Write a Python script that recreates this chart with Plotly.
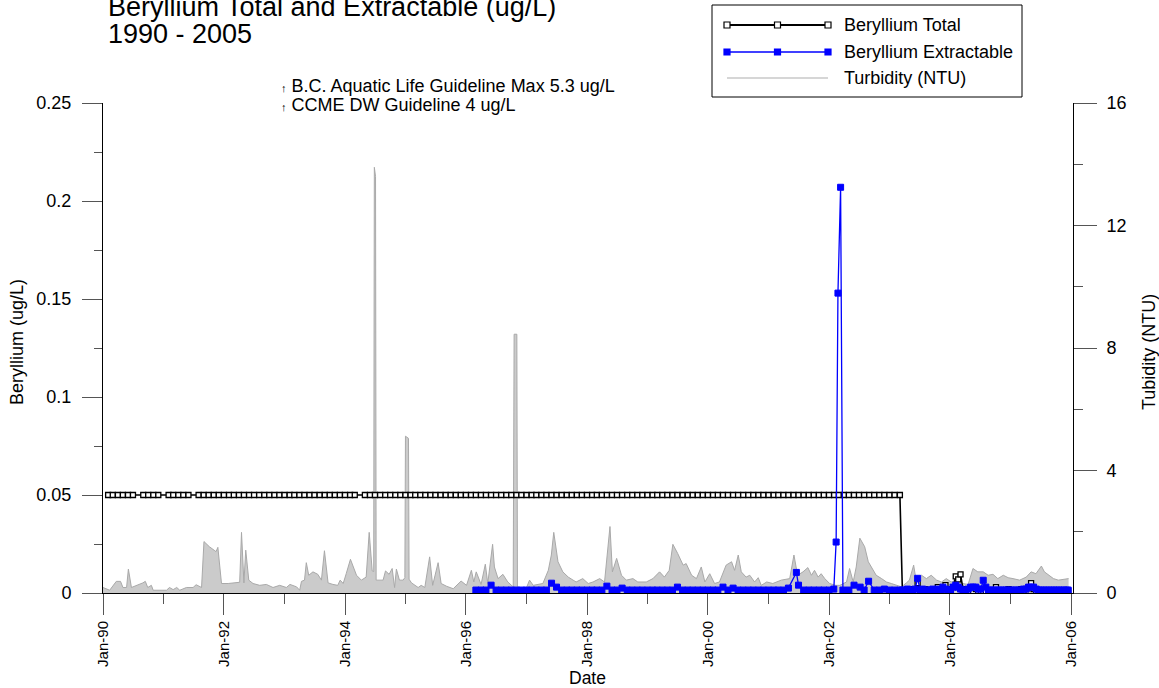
import plotly.graph_objects as go
from datetime import datetime, timedelta

# ---------------- text ----------------
TITLE_LINES = ["Beryllium Total and Extractable (ug/L)", "1990 - 2005"]
GUIDELINES = ["B.C. Aquatic Life Guideline Max 5.3 ug/L", "CCME DW Guideline 4 ug/L"]
SERIES_NAMES = ["Beryllium Total", "Beryllium Extractable", "Turbidity (NTU)"]
Y_LEFT_TITLE = "Beryllium (ug/L)"
Y_RIGHT_TITLE = "Tubidity (NTU)"
X_TITLE = "Date"

# ---------------- turbidity (decimal year, NTU) ----------------
TURB_YEAR = [
    1990.00, 1990.11, 1990.22, 1990.29, 1990.33, 1990.39, 1990.42, 1990.47, 1990.66, 1990.70,
    1990.74, 1990.80, 1990.83, 1991.05, 1991.10, 1991.16, 1991.22, 1991.27, 1991.38, 1991.49,
    1991.54, 1991.63, 1991.67, 1991.76, 1991.85, 1991.87, 1991.90, 1991.96, 1992.07, 1992.23,
    1992.26, 1992.29, 1992.33, 1992.36, 1992.41, 1992.48, 1992.59, 1992.70, 1992.81, 1992.92,
    1993.03, 1993.09, 1993.20, 1993.25, 1993.28, 1993.33, 1993.36, 1993.40, 1993.47, 1993.55,
    1993.61, 1993.66, 1993.72, 1993.80, 1993.88, 1993.92, 1993.97, 1994.02, 1994.09, 1994.19,
    1994.27, 1994.35, 1994.40, 1994.45, 1994.475, 1994.485, 1994.505, 1994.515, 1994.55, 1994.63,
    1994.67, 1994.73, 1994.78, 1994.82, 1994.85, 1994.90, 1994.96, 1994.99, 1995.00, 1995.05,
    1995.06, 1995.10, 1995.21, 1995.26, 1995.32, 1995.40, 1995.45, 1995.54, 1995.59, 1995.68,
    1995.79, 1995.92, 1996.01, 1996.09, 1996.13, 1996.17, 1996.25, 1996.32, 1996.36, 1996.44,
    1996.47, 1996.53, 1996.61, 1996.69, 1996.78, 1996.795, 1996.84, 1996.85, 1997.00, 1997.05,
    1997.11, 1997.27, 1997.36, 1997.41, 1997.45, 1997.52, 1997.60, 1997.69, 1997.77, 1997.82,
    1997.93, 1998.02, 1998.10, 1998.21, 1998.29, 1998.38, 1998.42, 1998.49, 1998.57, 1998.65,
    1998.76, 1998.84, 1998.98, 1999.09, 1999.20, 1999.28, 1999.36, 1999.42, 1999.50, 1999.59,
    1999.64, 1999.73, 1999.81, 1999.89, 1999.95, 2000.03, 2000.11, 2000.19, 2000.30, 2000.39,
    2000.44, 2000.50, 2000.55, 2000.63, 2000.69, 2000.77, 2000.83, 2000.88, 2000.97, 2001.07,
    2001.21, 2001.35, 2001.42, 2001.48, 2001.57, 2001.65, 2001.71, 2001.76, 2001.82, 2001.87,
    2001.93, 2002.01, 2002.11, 2002.18, 2002.29, 2002.34, 2002.40, 2002.45, 2002.51, 2002.59,
    2002.65, 2002.73, 2002.78, 2002.87, 2002.95, 2003.03, 2003.11, 2003.20, 2003.28, 2003.33,
    2003.40, 2003.44, 2003.53, 2003.61, 2003.69, 2003.78, 2003.86, 2003.94, 2004.02, 2004.11,
    2004.21, 2004.30, 2004.38, 2004.46, 2004.55, 2004.63, 2004.71, 2004.79, 2004.88, 2004.96,
    2005.04, 2005.15, 2005.26, 2005.34, 2005.42, 2005.51, 2005.56, 2005.63, 2005.71, 2005.79,
    2005.88, 2005.96,
]
TURB_NTU = [
    0.18, 0.09, 0.38, 0.38, 0.18, 0.18, 0.78, 0.18, 0.33, 0.38,
    0.18, 0.25, 0.09, 0.09, 0.18, 0.11, 0.18, 0.09, 0.18, 0.18,
    0.27, 0.18, 1.68, 1.51, 1.38, 1.35, 1.49, 0.31, 0.31, 0.35,
    0.35, 1.98, 0.33, 1.40, 0.42, 0.31, 0.25, 0.28, 0.18, 0.25,
    0.18, 0.28, 0.20, 0.09, 0.38, 0.42, 0.99, 0.58, 0.69, 0.61,
    0.42, 1.38, 0.33, 0.28, 0.25, 0.42, 0.31, 0.63, 1.10, 0.58,
    0.42, 0.52, 1.98, 0.72, 0.70, 13.90, 13.60, 0.42, 0.42, 0.42,
    0.72, 0.61, 0.80, 0.18, 0.78, 0.42, 0.42, 0.50, 5.12, 5.05,
    0.45, 0.33, 0.18, 0.25, 0.18, 1.18, 0.25, 0.99, 0.31, 0.22,
    0.14, 0.39, 0.25, 0.74, 0.36, 0.69, 0.28, 0.94, 0.31, 1.59,
    0.85, 0.47, 0.61, 0.36, 0.20, 8.45, 8.45, 0.14, 0.18, 0.42,
    0.25, 0.31, 0.74, 1.24, 1.98, 1.02, 0.69, 0.52, 0.42, 0.36,
    0.47, 0.31, 0.36, 0.47, 0.36, 2.17, 0.69, 1.13, 0.58, 0.42,
    0.47, 0.36, 0.36, 0.47, 0.69, 0.52, 0.74, 1.59, 1.29, 0.91,
    0.96, 0.58, 0.47, 0.85, 0.36, 0.63, 0.31, 0.36, 0.91, 1.02,
    0.74, 1.24, 0.69, 0.52, 0.58, 0.36, 0.50, 0.25, 0.36, 0.31,
    0.42, 0.47, 1.24, 0.58, 0.69, 0.83, 0.58, 0.74, 0.52, 0.63,
    0.47, 0.31, 0.25, 0.25, 0.36, 0.80, 0.36, 0.85, 1.79, 1.51,
    1.02, 0.74, 0.58, 0.47, 0.36, 0.31, 0.25, 0.20, 0.33, 0.42,
    0.91, 0.42, 0.58, 0.47, 0.58, 0.42, 0.36, 0.47, 0.36, 0.42,
    0.31, 0.28, 0.80, 0.69, 0.69, 0.58, 0.61, 0.47, 0.58, 0.50,
    0.47, 0.42, 0.52, 0.69, 0.63, 0.88, 0.69, 0.58, 0.47, 0.42,
    0.44, 0.47,
]

# ---------------- beryllium samples ----------------
LATE_SAMPLE_DATES = [
    "2003-03-20", "2003-04-05", "2003-04-20", "2003-05-05", "2003-05-20", "2003-06-05", "2003-06-20",
    "2003-07-05", "2003-07-20", "2003-08-05", "2003-08-20", "2003-09-05", "2003-09-20", "2003-10-05",
    "2003-10-20", "2003-11-05", "2003-11-20", "2003-12-05", "2003-12-20",
    "2004-01-05", "2004-01-20", "2004-02-05", "2004-02-20", "2004-03-05", "2004-03-20", "2004-04-05",
    "2004-04-20", "2004-05-05", "2004-05-20", "2004-06-05", "2004-06-20", "2004-07-05", "2004-07-20",
    "2004-08-05", "2004-08-20", "2004-09-05", "2004-09-20", "2004-10-05", "2004-10-20", "2004-11-05",
    "2004-11-20", "2004-12-05", "2004-12-20",
    "2005-01-05", "2005-01-20", "2005-02-05", "2005-02-20", "2005-03-05", "2005-03-20", "2005-04-05",
    "2005-04-20", "2005-05-05", "2005-05-20", "2005-06-05", "2005-06-20", "2005-07-05", "2005-07-20",
    "2005-08-05", "2005-08-20", "2005-09-05", "2005-09-20", "2005-10-05", "2005-10-20", "2005-11-05",
    "2005-11-20", "2005-12-05", "2005-12-15",
]

TOTAL_EARLY_DATES = [
    "1990-02", "1990-03", "1990-04", "1990-05", "1990-06", "1990-07", "1990-09", "1990-10", "1990-11", "1990-12",
    "1991-02", "1991-03", "1991-04", "1991-05", "1991-06", "1991-08", "1991-09", "1991-10", "1991-11", "1991-12",
    "1992-01", "1992-02", "1992-03", "1992-04", "1992-05", "1992-06", "1992-07", "1992-08", "1992-09", "1992-10", "1992-11", "1992-12",
    "1993-01", "1993-02", "1993-03", "1993-04", "1993-05", "1993-06", "1993-07", "1993-08", "1993-09", "1993-10", "1993-11", "1993-12",
    "1994-01", "1994-02", "1994-03", "1994-05", "1994-06", "1994-07", "1994-08", "1994-09", "1994-10", "1994-11", "1994-12",
    "1995-01", "1995-02", "1995-03", "1995-04", "1995-05", "1995-06", "1995-07", "1995-08", "1995-09", "1995-10", "1995-11", "1995-12",
    "1996-01", "1996-02", "1996-03", "1996-04", "1996-05", "1996-06", "1996-07", "1996-08", "1996-09", "1996-10", "1996-11", "1996-12",
    "1997-01", "1997-02", "1997-03", "1997-04", "1997-05", "1997-06", "1997-07", "1997-08", "1997-09", "1997-10", "1997-11", "1997-12",
    "1998-01", "1998-02", "1998-03", "1998-04", "1998-05", "1998-06", "1998-07", "1998-08", "1998-09", "1998-10", "1998-11", "1998-12",
    "1999-01", "1999-02", "1999-03", "1999-04", "1999-05", "1999-06", "1999-07", "1999-08", "1999-09", "1999-10", "1999-11", "1999-12",
    "2000-01", "2000-02", "2000-03", "2000-04", "2000-05", "2000-06", "2000-07", "2000-08", "2000-09", "2000-10", "2000-11", "2000-12",
    "2001-01", "2001-02", "2001-03", "2001-04", "2001-05", "2001-06", "2001-07", "2001-08", "2001-09", "2001-10", "2001-11", "2001-12",
    "2002-01", "2002-02", "2002-03", "2002-04", "2002-05", "2002-06", "2002-07", "2002-08", "2002-09", "2002-10", "2002-11", "2002-12",
    "2003-01", "2003-02", "2003-03-05",
]
TOTAL_EARLY_BE = [
    0.05, 0.05, 0.05, 0.05, 0.05, 0.05, 0.05, 0.05, 0.05, 0.05,
    0.05, 0.05, 0.05, 0.05, 0.05, 0.05, 0.05, 0.05, 0.05, 0.05,
    0.05, 0.05, 0.05, 0.05, 0.05, 0.05, 0.05, 0.05, 0.05, 0.05, 0.05, 0.05,
    0.05, 0.05, 0.05, 0.05, 0.05, 0.05, 0.05, 0.05, 0.05, 0.05, 0.05, 0.05,
    0.05, 0.05, 0.05, 0.05, 0.05, 0.05, 0.05, 0.05, 0.05, 0.05, 0.05,
    0.05, 0.05, 0.05, 0.05, 0.05, 0.05, 0.05, 0.05, 0.05, 0.05, 0.05, 0.05,
    0.05, 0.05, 0.05, 0.05, 0.05, 0.05, 0.05, 0.05, 0.05, 0.05, 0.05, 0.05,
    0.05, 0.05, 0.05, 0.05, 0.05, 0.05, 0.05, 0.05, 0.05, 0.05, 0.05, 0.05,
    0.05, 0.05, 0.05, 0.05, 0.05, 0.05, 0.05, 0.05, 0.05, 0.05, 0.05, 0.05,
    0.05, 0.05, 0.05, 0.05, 0.05, 0.05, 0.05, 0.05, 0.05, 0.05, 0.05, 0.05,
    0.05, 0.05, 0.05, 0.05, 0.05, 0.05, 0.05, 0.05, 0.05, 0.05, 0.05, 0.05,
    0.05, 0.05, 0.05, 0.05, 0.05, 0.05, 0.05, 0.05, 0.05, 0.05, 0.05, 0.05,
    0.05, 0.05, 0.05, 0.05, 0.05, 0.05, 0.05, 0.05, 0.05, 0.05, 0.05, 0.05,
    0.05, 0.05, 0.05,
]
TOTAL_LATE_BE = [
    0.001, 0.001, 0.001, 0.002, 0.001, 0.001, 0.005, 0.001, 0.001, 0.002,
    0.001, 0.001, 0.001, 0.001, 0.003, 0.001, 0.002, 0.004, 0.001,
    0.002, 0.003, 0.0085, 0.007, 0.0095, 0.002, 0.001, 0.002, 0.001, 0.001,
    0.002, 0.001, 0.001, 0.001, 0.001, 0.001, 0.001, 0.001, 0.003, 0.001,
    0.001, 0.001, 0.001, 0.002,
    0.001, 0.001, 0.001, 0.001, 0.002, 0.001, 0.002, 0.003, 0.005, 0.002,
    0.001, 0.001, 0.001, 0.001, 0.001, 0.001, 0.001, 0.001, 0.001, 0.001,
    0.001, 0.001, 0.001, 0.001,
]

EXTR_EARLY_DATES = [
    "1996-03", "1996-04", "1996-05", "1996-06", "1996-07", "1996-08", "1996-09", "1996-10", "1996-11", "1996-12",
    "1997-01", "1997-02", "1997-03", "1997-04", "1997-05", "1997-06", "1997-07", "1997-08", "1997-09", "1997-10", "1997-11", "1997-12",
    "1998-01", "1998-02", "1998-03", "1998-04", "1998-05", "1998-06", "1998-07", "1998-08", "1998-09", "1998-10", "1998-11", "1998-12",
    "1999-01", "1999-02", "1999-03", "1999-04", "1999-05", "1999-06", "1999-07", "1999-08", "1999-09", "1999-10", "1999-11", "1999-12",
    "2000-01", "2000-02", "2000-03", "2000-04", "2000-05", "2000-06", "2000-07", "2000-08", "2000-09", "2000-10", "2000-11", "2000-12",
    "2001-01", "2001-02", "2001-03", "2001-04", "2001-05", "2001-06-18", "2001-07-01", "2001-08", "2001-09", "2001-10", "2001-11", "2001-12",
    "2002-01", "2002-01-30", "2002-02-13", "2002-02-24", "2002-03-12", "2002-03-26", "2002-05", "2002-06", "2002-07-08", "2002-08",
    "2002-08-28", "2002-10", "2002-11", "2002-12",
    "2003-01", "2003-02", "2003-03-05",
]
EXTR_EARLY_BE = [
    0.0015, 0.0015, 0.0015, 0.004, 0.0015, 0.0015, 0.0015, 0.0015, 0.0015, 0.0015,
    0.0015, 0.0015, 0.0015, 0.0015, 0.0015, 0.005, 0.003, 0.0015, 0.0015, 0.0015, 0.0015, 0.0015,
    0.0015, 0.0015, 0.0015, 0.0015, 0.0035, 0.0015, 0.0015, 0.0025, 0.0015, 0.0015, 0.0015, 0.0015,
    0.0015, 0.0015, 0.0015, 0.0015, 0.0015, 0.0015, 0.003, 0.0015, 0.0015, 0.0015, 0.0015, 0.0015,
    0.0015, 0.0015, 0.0015, 0.003, 0.0015, 0.0025, 0.0015, 0.0015, 0.0015, 0.0015, 0.0015, 0.0015,
    0.0015, 0.0015, 0.0015, 0.0015, 0.0025, 0.0105, 0.004, 0.0015, 0.0015, 0.0015, 0.0015, 0.0015,
    0.0015, 0.002, 0.026, 0.153, 0.207, 0.0015, 0.0015, 0.004, 0.003, 0.0015,
    0.006, 0.0015, 0.0015, 0.002,
    0.0015, 0.0015, 0.0015,
]
EXTR_LATE_BE = [
    0.0015, 0.0015, 0.002, 0.0015, 0.0015, 0.002, 0.0075, 0.0015, 0.002, 0.0015,
    0.0015, 0.0015, 0.002, 0.0015, 0.002, 0.0015, 0.003, 0.002, 0.0015,
    0.0015, 0.003, 0.004, 0.003, 0.002, 0.0015, 0.0015, 0.002, 0.003, 0.003,
    0.003, 0.002, 0.002, 0.0065, 0.003, 0.0015, 0.0015, 0.0015, 0.0015, 0.0015,
    0.0015, 0.0015, 0.0015, 0.0015,
    0.0015, 0.0015, 0.0015, 0.0015, 0.0015, 0.002, 0.002, 0.003, 0.003, 0.003,
    0.002, 0.0015, 0.0015, 0.0015, 0.0015, 0.0015, 0.0015, 0.0015, 0.0015, 0.0015,
    0.0015, 0.0015, 0.0015, 0.0015,
]

# ---------------- helpers ----------------
def dec_year_to_date(y):
    yr = int(y)
    start = datetime(yr, 1, 1)
    end = datetime(yr + 1, 1, 1)
    return start + timedelta(seconds=(end - start).total_seconds() * (y - yr))

turb_dates = [dec_year_to_date(y) for y in TURB_YEAR]
total_dates = TOTAL_EARLY_DATES + LATE_SAMPLE_DATES
total_be = TOTAL_EARLY_BE + TOTAL_LATE_BE
extr_dates = EXTR_EARLY_DATES + LATE_SAMPLE_DATES
extr_be = EXTR_EARLY_BE + EXTR_LATE_BE

FONT = "Liberation Sans, Arial, sans-serif"
W, H = 1159, 688
L, R, T, B = 103, 86, 103, 95
PW = W - L - R
PH = H - T - B

def px(xp):
    return (xp - L) / PW

def py(yp):
    return (H - B - yp) / PH

fig = go.Figure()

fig.add_trace(go.Scatter(
    x=turb_dates, y=TURB_NTU, name=SERIES_NAMES[2], mode="lines",
    line=dict(color="#a9a9a9", width=1), fill="tozeroy", fillcolor="#cbcbcb",
    yaxis="y", showlegend=False,
))
fig.add_trace(go.Scatter(
    x=total_dates, y=total_be, name=SERIES_NAMES[0], mode="lines+markers",
    line=dict(color="black", width=1.6),
    marker=dict(symbol="square", size=5, color="white", line=dict(color="black", width=1.3)),
    yaxis="y2", showlegend=False,
))
fig.add_trace(go.Scatter(
    x=extr_dates, y=extr_be, name=SERIES_NAMES[1], mode="lines+markers",
    line=dict(color="#0000ff", width=1.3),
    marker=dict(symbol="square", size=6, color="#0000ff", line=dict(color="#0000ff", width=1)),
    yaxis="y2", showlegend=False,
))

ytick_font = dict(family=FONT, size=18, color="black")
xtick_font = dict(family=FONT, size=15, color="black")

fig.update_layout(
    width=W, height=H,
    margin=dict(l=L, r=R, t=T, b=B, pad=0),
    paper_bgcolor="white", plot_bgcolor="white",
    font=dict(family=FONT, size=15, color="black"),
    showlegend=False,
    xaxis=dict(
        type="date", range=["1990-01-01", "2006-01-13"],
        tick0="1990-01-01", dtick="M24", tickformat="%b-%y", tickangle=-90,
        ticks="outside", ticklen=21, tickcolor="#555", tickwidth=1,
        minor=dict(dtick="M12", ticks="outside", ticklen=10, tickcolor="#555", showgrid=False),
        showline=True, linecolor="black", linewidth=1,
        showgrid=False, zeroline=False, tickfont=xtick_font,
    ),
    yaxis=dict(
        side="right", range=[0, 16], dtick=4, tick0=0,
        ticks="outside", ticklen=23, tickcolor="#555",
        minor=dict(dtick=2, ticks="outside", ticklen=9, tickcolor="#555", showgrid=False),
        showline=True, linecolor="black", linewidth=1,
        showgrid=False, zeroline=False, tickfont=ytick_font, ticklabelstandoff=6,
    ),
    yaxis2=dict(
        side="left", overlaying="y", range=[0, 0.25], dtick=0.05, tick0=0,
        ticks="outside", ticklen=20, tickcolor="#555",
        minor=dict(dtick=0.025, ticks="outside", ticklen=8, tickcolor="#555", showgrid=False),
        showline=True, linecolor="black", linewidth=1,
        showgrid=False, zeroline=False, tickfont=ytick_font, ticklabelstandoff=7,
    ),
)

ann = []
# title
ann.append(dict(text=TITLE_LINES[0], xref="paper", yref="paper", x=px(106), y=py(7),
                xanchor="left", yanchor="middle", showarrow=False,
                font=dict(family=FONT, size=27, color="black")))
ann.append(dict(text=TITLE_LINES[1], xref="paper", yref="paper", x=px(106), y=py(34),
                xanchor="left", yanchor="middle", showarrow=False,
                font=dict(family=FONT, size=27, color="black")))
# guidelines
for i, g in enumerate(GUIDELINES):
    ann.append(dict(text="<span style='font-size:11px'>\u2191</span> " + g,
                    xref="paper", yref="paper", x=px(279), y=py(86 + 19 * i),
                    xanchor="left", yanchor="middle", showarrow=False,
                    font=dict(family=FONT, size=18, color="black")))
# axis titles
ann.append(dict(text=Y_LEFT_TITLE, xref="paper", yref="paper", x=px(17), y=py(342),
                xanchor="center", yanchor="middle", textangle=-90, showarrow=False,
                font=dict(family=FONT, size=18, color="black")))
ann.append(dict(text=Y_RIGHT_TITLE, xref="paper", yref="paper", x=px(1149), y=py(352),
                xanchor="center", yanchor="middle", textangle=-90, showarrow=False,
                font=dict(family=FONT, size=18, color="black")))
ann.append(dict(text=X_TITLE, xref="paper", yref="paper", x=px(587), y=py(678),
                xanchor="center", yanchor="middle", showarrow=False,
                font=dict(family=FONT, size=17.5, color="black")))

# custom legend
shapes = []
shapes.append(dict(type="rect", xref="paper", yref="paper",
                   x0=px(712), x1=px(1022), y0=py(97), y1=py(5),
                   line=dict(color="black", width=1), fillcolor="white", layer="above"))
legend_rows = [25, 52, 78]
line_x0, line_x1 = 727, 828
styles = [
    dict(line="black", lw=2, fill="white", edge="black"),
    dict(line="#0000ff", lw=1.5, fill="#0000ff", edge="#0000ff"),
    dict(line="#c8c8c8", lw=1.5, fill=None, edge=None),
]
for i, (ry, st) in enumerate(zip(legend_rows, styles)):
    shapes.append(dict(type="line", xref="paper", yref="paper",
                       x0=px(line_x0), x1=px(line_x1), y0=py(ry), y1=py(ry),
                       line=dict(color=st["line"], width=st["lw"]), layer="above"))
    if st["fill"] is not None:
        for mx in (line_x0, (line_x0 + line_x1) / 2, line_x1):
            shapes.append(dict(type="rect", xref="paper", yref="paper",
                               x0=px(mx - 3), x1=px(mx + 3), y0=py(ry + 3), y1=py(ry - 3),
                               line=dict(color=st["edge"], width=1.2),
                               fillcolor=st["fill"], layer="above"))
    ann.append(dict(text=SERIES_NAMES[i], xref="paper", yref="paper", x=px(842), y=py(ry),
                    xanchor="left", yanchor="middle", showarrow=False,
                    font=dict(family=FONT, size=18, color="black")))

fig.update_layout(annotations=ann, shapes=shapes)

fig.write_html("out.html", config={"displayModeBar": False},
               post_script="document.body.style.margin='0';")
